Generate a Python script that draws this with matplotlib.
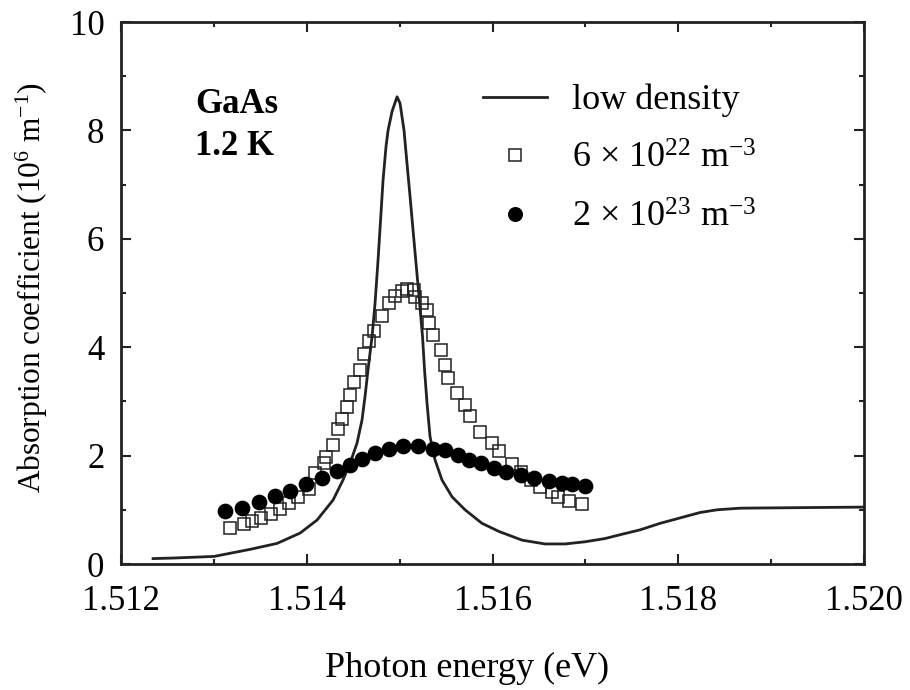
"""GaAs exciton absorption at different carrier densities."""

import matplotlib

matplotlib.use("Agg")
import matplotlib.pyplot as plt
from matplotlib.ticker import MultipleLocator

plt.rcParams["font.family"] = ["Liberation Serif", "DejaVu Serif"]
plt.rcParams["mathtext.fontset"] = "custom"
plt.rcParams["mathtext.rm"] = "Liberation Serif"
plt.rcParams["mathtext.it"] = "Liberation Serif:italic"

# low density spectrum (eV, 10^6 m^-1)
low_e = [1.512345, 1.512560, 1.513001, 1.513389, 1.513680, 1.513927, 1.514110, 1.514283,
         1.514390, 1.514466, 1.514541, 1.514595, 1.514627, 1.514659, 1.514703, 1.514735,
         1.514767, 1.514799, 1.514821, 1.514853, 1.514875, 1.514918, 1.514972, 1.515004,
         1.515047, 1.515079, 1.515112, 1.515144, 1.515176, 1.515209, 1.515246, 1.515268,
         1.515295, 1.515327, 1.515381, 1.515456, 1.515564, 1.515704, 1.515887, 1.516070,
         1.516318, 1.516565, 1.516781, 1.516996, 1.517211, 1.517373, 1.517588, 1.517803,
         1.518019, 1.518234, 1.518417, 1.518665, 1.519311, 1.520000]
low_a = [0.10, 0.11, 0.14, 0.27, 0.38, 0.57, 0.81, 1.18,
         1.55, 1.86, 2.23, 2.66, 3.09, 3.58, 4.20, 4.81,
         5.60, 6.47, 7.08, 7.70, 8.00, 8.35, 8.62, 8.50,
         8.00, 7.39, 6.78, 6.16, 5.55, 4.93, 4.20, 3.58,
         2.96, 2.35, 1.92, 1.55, 1.24, 1.00, 0.75, 0.60,
         0.44, 0.37, 0.37, 0.41, 0.47, 0.54, 0.63, 0.75,
         0.85, 0.95, 1.00, 1.03, 1.04, 1.05]

# 6 x 10^22 m^-3
mid_e = [1.51317, 1.51332, 1.51341, 1.51351, 1.51361, 1.51371, 1.51381, 1.51391,
         1.51402, 1.51409, 1.51418, 1.51421, 1.51428, 1.51434, 1.51438, 1.51443,
         1.51447, 1.51451, 1.51457, 1.51462, 1.51467, 1.51472, 1.51481, 1.51488,
         1.51495, 1.51502, 1.51508, 1.51515, 1.51517, 1.51524, 1.51529, 1.51532,
         1.51536, 1.51544, 1.51549, 1.51552, 1.51562, 1.51570, 1.51576, 1.51587,
         1.51599, 1.51607, 1.51621, 1.51631, 1.51641, 1.51651, 1.51664, 1.51671,
         1.51682, 1.51696]
mid_a = [0.67, 0.73, 0.80, 0.84, 0.92, 1.01, 1.12, 1.24,
         1.38, 1.67, 1.87, 1.98, 2.20, 2.49, 2.68, 2.89,
         3.12, 3.36, 3.58, 3.87, 4.11, 4.29, 4.58, 4.81,
         4.94, 5.04, 5.08, 5.06, 4.93, 4.81, 4.69, 4.44,
         4.23, 3.95, 3.67, 3.44, 3.16, 2.93, 2.73, 2.44,
         2.24, 2.08, 1.85, 1.70, 1.55, 1.43, 1.32, 1.24,
         1.17, 1.10]

# 2 x 10^23 m^-3
high_e = [1.51312, 1.51330, 1.51349, 1.51366, 1.51382, 1.51399, 1.51416, 1.51432,
          1.51446, 1.51459, 1.51473, 1.51489, 1.51504, 1.51520, 1.51536, 1.51549,
          1.51563, 1.51575, 1.51588, 1.51602, 1.51615, 1.51631, 1.51645, 1.51661,
          1.51675, 1.51686, 1.51700]
high_a = [0.98, 1.03, 1.15, 1.25, 1.35, 1.47, 1.58, 1.72,
          1.83, 1.93, 2.04, 2.13, 2.18, 2.18, 2.13, 2.10,
          2.01, 1.92, 1.86, 1.77, 1.70, 1.64, 1.58, 1.54,
          1.49, 1.47, 1.44]

ink = "#222222"

fig = plt.figure(figsize=(9.1, 6.9), dpi=100)
ax = fig.add_axes([0.133, 0.1826, 0.8165, 0.7855])

ax.plot(low_e, low_a, color=ink, linewidth=2.0, label="low density", zorder=3)
ax.plot(mid_e, mid_a, linestyle="none", marker="s", markersize=9.0,
        markerfacecolor="none", markeredgecolor=ink, markeredgewidth=1.1,
        label=r"6 $\times$ 10$^{22}$ m$^{-3}$", zorder=2)
ax.plot(high_e, high_a, linestyle="none", marker="o", markersize=10.3,
        markerfacecolor="black", markeredgecolor="black",
        label=r"2 $\times$ 10$^{23}$ m$^{-3}$", zorder=4)

ax.set_xlim(1.512, 1.520)
ax.set_ylim(0, 10)
ax.xaxis.set_major_locator(MultipleLocator(0.002))
ax.xaxis.set_minor_locator(MultipleLocator(0.001))
ax.yaxis.set_major_locator(MultipleLocator(2))
ax.yaxis.set_minor_locator(MultipleLocator(1))
ax.xaxis.set_major_formatter(plt.FuncFormatter(lambda v, p: f"{v:.3f}"))

ax.tick_params(which="both", direction="in", top=True, right=True,
               colors=ink, labelcolor="black", labelsize=25, width=1.5)
ax.tick_params(which="major", length=7)
ax.tick_params(which="minor", length=3.5)
ax.tick_params(axis="x", pad=15)
ax.tick_params(axis="y", pad=12)
for s in ax.spines.values():
    s.set_linewidth(2.0)
    s.set_color(ink)

ax.set_xlabel("Photon energy (eV)", fontsize=26)
ax.xaxis.set_label_coords(0.466, -0.162)
ax.xaxis.label.set_va("top")
ax.set_ylabel(r"Absorption coefficient (10$^{6}$ m$^{-1}$)", fontsize=22.5)
ax.yaxis.set_label_coords(-0.0956, 0.51)

ax.text(0.0996, 0.832, "GaAs", transform=ax.transAxes, fontsize=25,
        fontweight="bold", va="baseline")
ax.text(0.0996, 0.755, "1.2 K", transform=ax.transAxes, fontsize=25,
        fontweight="bold", va="baseline")

ax.legend(loc="upper left", bbox_to_anchor=(0.487, 0.886), frameon=False,
          fontsize=26, numpoints=1, handlelength=1.77, handletextpad=0.69,
          labelspacing=0.70, borderpad=0, borderaxespad=0, markerscale=0.95)

fig.savefig("out.png", dpi=100)
